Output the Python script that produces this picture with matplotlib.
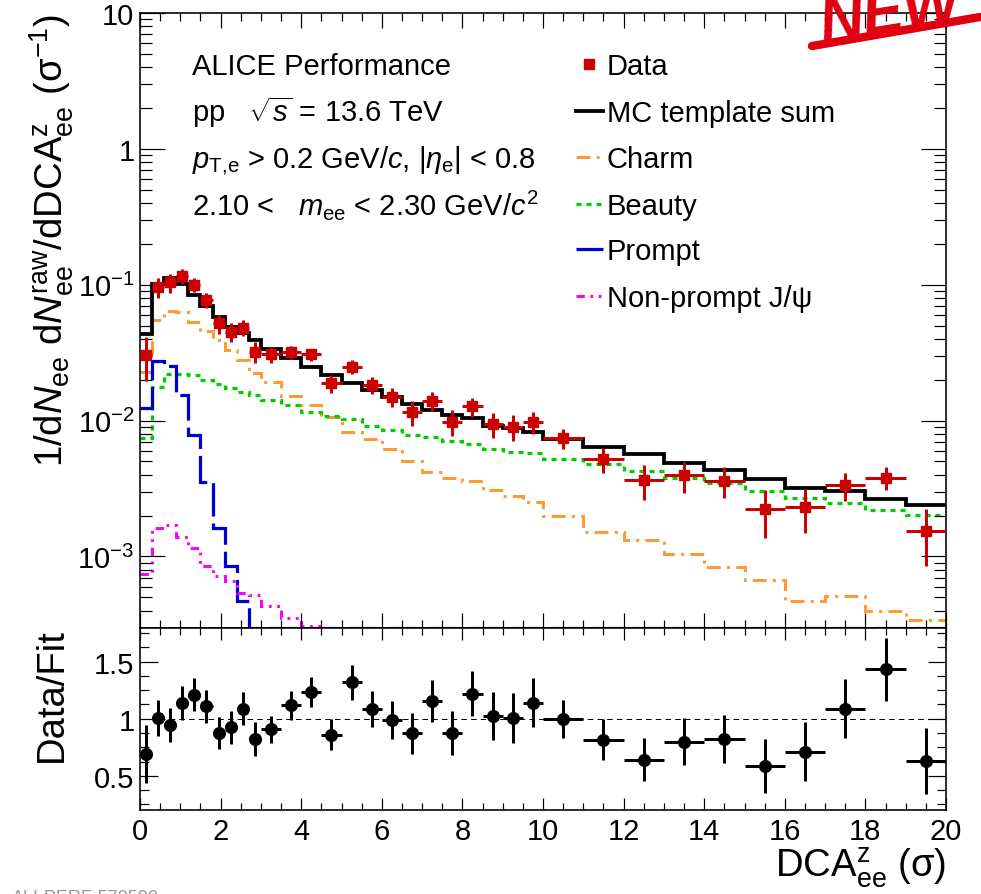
import numpy as np
import matplotlib
matplotlib.use('Agg')
import matplotlib.pyplot as plt
from matplotlib.lines import Line2D
from matplotlib.ticker import FixedLocator, FixedFormatter, NullFormatter

plt.rcParams['font.family'] = ['Liberation Sans', 'DejaVu Sans']
plt.rcParams['mathtext.fontset'] = 'custom'
plt.rcParams['mathtext.rm'] = 'Liberation Sans'
plt.rcParams['mathtext.it'] = 'Liberation Sans:italic'
plt.rcParams['mathtext.bf'] = 'Liberation Sans:bold'
plt.rcParams['mathtext.sf'] = 'Liberation Sans'
plt.rcParams['lines.scale_dashes'] = False

# ---------------- data ----------------
bin_edges = [0.0, 0.3, 0.6, 0.9, 1.2, 1.5, 1.8, 2.1, 2.4, 2.7, 3.0,
             3.5, 4.0, 4.5, 5.0, 5.5, 6.0, 6.5, 7.0, 7.5, 8.0, 8.5, 9.0, 9.5, 10.0,
             11.0, 12.0, 13.0, 14.0, 15.0, 16.0, 17.0, 18.0, 19.0, 20.0]

data_vals = [0.0303, 0.096, 0.104, 0.116, 0.100, 0.0769, 0.0519, 0.045, 0.0482, 0.0321,
             0.0307, 0.0318, 0.0307, 0.0188, 0.0249, 0.0183, 0.0150, 0.0115, 0.0140, 0.00984,
             0.0127, 0.0094, 0.00903, 0.00972,
             0.00742, 0.00522, 0.00366, 0.00395, 0.00360, 0.00223, 0.00230, 0.00333, 0.00381, 0.00155]

mc_sum = [0.0431, 0.102, 0.112, 0.102, 0.0838, 0.0695, 0.058, 0.049, 0.044, 0.039,
          0.0336, 0.0287, 0.0249, 0.0216, 0.0190, 0.0168, 0.0150, 0.0132, 0.0120, 0.0110,
          0.0104, 0.00913, 0.00888, 0.0083,
          0.00733, 0.00634, 0.00566, 0.00491, 0.00433, 0.00371, 0.00318, 0.00304, 0.00266, 0.0024]

charm = [0.0229, 0.0548, 0.0638, 0.0625, 0.0534, 0.0455, 0.0391, 0.033, 0.0279, 0.0223,
         0.0191, 0.01527, 0.01303, 0.0107, 0.0082, 0.00729, 0.00615, 0.00505, 0.00421, 0.0038,
         0.0036, 0.0031, 0.0028, 0.0025,
         0.0020, 0.00151, 0.00133, 0.00104, 0.00083, 0.000675, 0.000473, 0.000509, 0.000395, 0.000343]

beauty = [0.00741, 0.0178, 0.0222, 0.0222, 0.0216, 0.0199, 0.0185, 0.01726, 0.0163, 0.01542,
          0.01417, 0.01302, 0.01164, 0.01087, 0.01027, 0.00918, 0.00853, 0.00784, 0.00754, 0.00708,
          0.00669, 0.00615, 0.00591, 0.00582,
          0.00522, 0.00477, 0.00426, 0.00381, 0.00346, 0.00301, 0.00268, 0.00247, 0.0022, 0.00202]

prompt = [0.0123, 0.0274, 0.0252, 0.0154, 0.00784, 0.00356, 0.00162, 0.000845, 0.000468, 0.0,
          0.0, 0.0, 0.0, 0.0, 0.0, 0.0, 0.0, 0.0, 0.0, 0.0, 0.0, 0.0, 0.0, 0.0,
          0.0, 0.0, 0.0, 0.0, 0.0, 0.0, 0.0, 0.0, 0.0, 0.0]

nonprompt = [0.00074, 0.00162, 0.00171, 0.00138, 0.00115, 0.00085, 0.00072, 0.00066, 0.00054, 0.00052,
             0.00043, 0.00035, 0.00031, 0.0, 0.0, 0.0, 0.0, 0.0, 0.0, 0.0, 0.0, 0.0, 0.0, 0.0,
             0.0, 0.0, 0.0, 0.0, 0.0, 0.0, 0.0, 0.0, 0.0, 0.0]

ratio_vals = [0.691, 1.006, 0.947, 1.139, 1.212, 1.109, 0.874, 0.927, 1.088, 0.823,
              0.906, 1.117, 1.235, 0.859, 1.318, 1.088, 0.991, 0.874, 1.156, 0.876,
              1.221, 1.024, 1.009, 1.141,
              1.0, 0.818, 0.641, 0.800, 0.823, 0.588, 0.712, 1.088, 1.435, 0.632]

ratio_errs = [0.25, 0.16, 0.15, 0.146, 0.144, 0.144, 0.143, 0.144, 0.147, 0.147,
              0.118, 0.124, 0.129, 0.137, 0.151, 0.157, 0.165, 0.179, 0.187, 0.191,
              0.20, 0.21, 0.218, 0.213,
              0.165, 0.176, 0.187, 0.204, 0.213, 0.235, 0.257, 0.26, 0.276, 0.29]

legend_labels = ["Data", "MC template sum", "Charm", "Beauty", "Prompt", "Non-prompt J/ψ"]

# ---------------- figure ----------------
W, H = 981, 895
fig = plt.figure(figsize=(W / 100, H / 100), dpi=100)


def fx(x):
    return x / W


def fy(y):
    return 1 - y / H


L, R = 140, 946
T_main, B_main = 14, 628.5
T_rat, B_rat = 628.5, 811

ax = fig.add_axes([fx(L), fy(B_main), (R - L) / W, (B_main - T_main) / H])
axr = fig.add_axes([fx(L), fy(B_rat), (R - L) / W, (B_rat - T_rat) / H], sharex=ax)

edges = np.array(bin_edges)
centers = 0.5 * (edges[:-1] + edges[1:])
half = 0.5 * np.diff(edges)
YMIN, YMAX = 3e-4, 10.0

px = 0.72  # points per pixel

red = '#cc0000'
orange = '#ff9933'
green = '#00cc00'
blue = '#0000cc'
magenta = '#ff00ff'

ls_charm = (0, (10, 4.5, 2.2, 4.5))
ls_beauty = (0, (3.6, 3.6))
ls_prompt = (0, (24, 5))
ls_np = (0, (6, 4, 2, 4, 2, 4))

ax.set_yscale('log')
ax.set_xlim(0, 20)
ax.set_ylim(YMIN, YMAX)

styles = [
    (charm, orange, ls_charm, 3.0),
    (beauty, green, ls_beauty, 3.2),
    (prompt, blue, ls_prompt, 3.2),
    (nonprompt, magenta, ls_np, 3.0),
]
for vals, col, ls, lw in styles:
    v = np.clip(np.array(vals), YMIN, None)
    ax.stairs(v, edges, baseline=None, color=col, linestyle=ls, linewidth=lw * px)

ax.stairs(np.array(mc_sum), edges, baseline=None, color='black', linewidth=3.8 * px, zorder=4)

dv = np.array(data_vals)
derr = np.array(ratio_errs) * np.array(mc_sum)
ax.errorbar(centers, dv, xerr=half, yerr=derr, fmt='s', color=red, ms=7.5 * px * 1.3,
            elinewidth=3.0 * px, capsize=0, zorder=5)

# ratio panel
axr.set_ylim(0.2, 1.8)
axr.axhline(1.0, color='black', lw=1.0 * px, linestyle=(0, (4, 3)))
axr.errorbar(centers, ratio_vals, xerr=half, yerr=ratio_errs, fmt='o', color='black',
             ms=9 * px * 1.3, elinewidth=3.0 * px, capsize=0, zorder=5)

# ---------------- ticks ----------------
fs_tick = 21
for a in (ax, axr):
    a.tick_params(which='both', direction='in', top=True, right=True, width=1.2 * px, colors='black')
    for s in a.spines.values():
        s.set_linewidth(1.6 * px)

ax.xaxis.set_major_locator(FixedLocator(np.arange(0, 21, 2)))
ax.xaxis.set_minor_locator(FixedLocator(np.arange(0, 20.01, 0.5)))
ax.tick_params(axis='x', which='major', length=15 * px, labelbottom=False)
ax.tick_params(axis='x', which='minor', length=8 * px)
ax.yaxis.set_major_locator(FixedLocator([1e-3, 1e-2, 1e-1, 1, 10]))
ax.yaxis.set_major_formatter(FixedFormatter([r'$10^{-3}$', r'$10^{-2}$', r'$10^{-1}$', '1', '10']))
minor_y = [m * 10.0 ** e for e in range(-4, 1) for m in range(2, 10)]
ax.yaxis.set_minor_locator(FixedLocator(minor_y))
ax.yaxis.set_minor_formatter(NullFormatter())
ax.tick_params(axis='y', which='major', length=25 * px, labelsize=fs_tick, pad=4)
ax.tick_params(axis='y', which='minor', length=12 * px)

axr.xaxis.set_major_locator(FixedLocator(np.arange(0, 21, 2)))
axr.xaxis.set_minor_locator(FixedLocator(np.arange(0, 20.01, 0.5)))
axr.xaxis.set_major_formatter(FixedFormatter([str(v) for v in range(0, 21, 2)]))
axr.tick_params(axis='x', which='major', length=12 * px, labelsize=fs_tick, pad=5)
axr.tick_params(axis='x', which='minor', length=7 * px)
axr.yaxis.set_major_locator(FixedLocator([0.5, 1.0, 1.5]))
axr.yaxis.set_major_formatter(FixedFormatter(['0.5', '1', '1.5']))
axr.yaxis.set_minor_locator(FixedLocator(np.arange(0.25, 1.76, 0.125)))
axr.tick_params(axis='y', which='major', length=18 * px, labelsize=fs_tick, pad=4)
axr.tick_params(axis='y', which='minor', length=9 * px)

# ---------------- titles ----------------
fs_title = 27.5
fig.text(fx(52), fy(14), r"1/d$N_{\rm ee}$ d$N_{\rm ee}^{\rm raw}$/dDCA$_{\rm ee}^{\rm z}$ (σ$^{-1}$)",
         rotation=90, ha='center', va='top', fontsize=fs_title)
fig.text(fx(52), fy(628), "Data/Fit", rotation=90, ha='center', va='top', fontsize=fs_title)
fig.text(fx(946), fy(868), r"DCA$_{\rm ee}^{\rm z}$ (σ)", ha='right', va='center', fontsize=fs_title)

# ---------------- text block ----------------
fs_txt = 21
lines_txt = ["ALICE Performance",
             r"pp   $\sqrt{s}$ = 13.6 TeV",
             r"$p_{\rm T{,}e}$ > 0.2 GeV/$c$, |$\eta_{\rm e}$| < 0.8",
             r"2.10 <   $m_{\rm ee}$ < 2.30 GeV/$c^{2}$"]
base_y = [75, 122, 168, 215]
for t, yb in zip(lines_txt, base_y):
    fig.text(fx(192), fy(yb), t, ha='left', va='baseline', fontsize=fs_txt)

# ---------------- legend ----------------
leg_y = [65, 112, 158, 205, 250, 297]
fig.add_artist(Line2D([fx(589)], [fy(leg_y[0])], marker='s', color=red, ms=7, linestyle='none',
                      transform=fig.transFigure))
keys = [('black', '-', 3.8), (orange, ls_charm, 3.0), (green, ls_beauty, 3.2),
        (blue, ls_prompt, 3.2), (magenta, ls_np, 3.0)]
for (col, ls, lw), yy in zip(keys, leg_y[1:]):
    fig.add_artist(Line2D([fx(576), fx(603)], [fy(yy), fy(yy)], color=col, linestyle=ls,
                          linewidth=lw * px, transform=fig.transFigure))
for lab, yy in zip(legend_labels, leg_y):
    fig.text(fx(607), fy(yy + 10), lab, ha='left', va='baseline', fontsize=fs_txt)

# ---------------- decorations ----------------
fig.text(fx(816), fy(42), "NEW", color='#e00010', fontsize=44, fontweight='bold', style='italic',
         rotation=9, ha='left', va='baseline')
fig.add_artist(Line2D([fx(812), fx(980)], [fy(47), fy(18)], color='#e00010', linewidth=6,
                      solid_capstyle='round', transform=fig.transFigure))
fig.text(fx(12), fy(903), "ALI-PERF-570590", color='#999999', fontsize=13, ha='left', va='baseline')

fig.savefig('out.png', dpi=100)
